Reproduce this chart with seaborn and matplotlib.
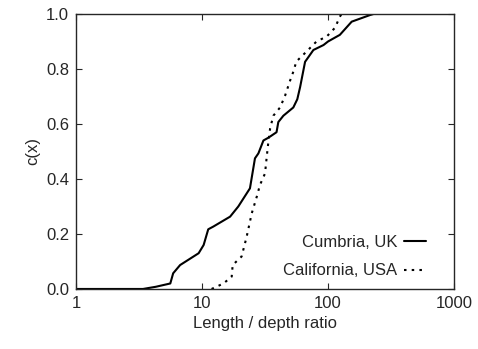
import matplotlib
matplotlib.use("Agg")
import matplotlib.pyplot as plt
import seaborn as sns
import pandas as pd

cumbria_x = [1, 3.4, 4.3, 5.6, 5.9, 6.7, 9.4, 10.3, 11.2, 12.3, 16.7, 19.4, 24, 26.3, 28,
             30.7, 33.6, 39, 40.3, 44.2, 53, 57, 60, 65.7, 76.5, 92, 100, 124, 154, 215, 230, 1000]
cumbria_y = [0, 0, 0.008, 0.02, 0.057, 0.087, 0.13, 0.16, 0.217, 0.227, 0.263, 0.30, 0.366, 0.475, 0.493,
             0.54, 0.55, 0.57, 0.607, 0.63, 0.66, 0.69, 0.734, 0.826, 0.869, 0.887, 0.90, 0.924, 0.972, 0.996, 1.0, 1.0]

calif_x = [11.9, 14.8, 17.2, 17.5, 20.6, 22.6, 24.8, 27.2, 28.8, 31.6, 32.6, 33.6, 34.7, 36.8,
           41.6, 45.6, 49.9, 53, 56, 67.7, 81, 97.6, 113.6, 124, 128]
calif_y = [0.0, 0.02, 0.045, 0.087, 0.118, 0.19, 0.275, 0.336, 0.378, 0.42, 0.48, 0.535, 0.584, 0.63,
           0.66, 0.703, 0.757, 0.79, 0.827, 0.864, 0.9, 0.918, 0.95, 0.99, 1.0]

df = pd.concat([
    pd.DataFrame({"x": cumbria_x, "y": cumbria_y, "site": "Cumbria, UK"}),
    pd.DataFrame({"x": calif_x, "y": calif_y, "site": "California, USA"}),
])

sns.set_style("ticks")
plt.rcParams['font.family'] = ['Liberation Sans', 'DejaVu Sans']

fig = plt.figure(figsize=(4.78, 3.49), dpi=100)
ax = fig.add_axes([0.159, 0.172, 0.791, 0.788])

sns.lineplot(data=df, x="x", y="y", style="site", sort=False, color="black",
             dashes={"Cumbria, UK": "", "California, USA": (1.2, 2.5)},
             linewidth=1.5, ax=ax, legend=True)

ax.set_xscale("log")
ax.set_xlim(1, 1000)
ax.set_ylim(0, 1)
ax.set_xticks([1, 10, 100, 1000])
ax.set_xticklabels(["1", "10", "100", "1000"])
ax.minorticks_off()
ax.set_yticks([0, 0.2, 0.4, 0.6, 0.8, 1.0])
ax.set_yticklabels(["0.0", "0.2", "0.4", "0.6", "0.8", "1.0"])
ax.tick_params(direction="in", top=True, right=True, labelsize=12, length=4, width=0.8, pad=5)
for s in ax.spines.values():
    s.set_linewidth(1.0)

ax.set_xlabel("Length / depth ratio", fontsize=12)
ax.set_ylabel("c(x)", fontsize=12)

ax.legend(loc="lower right", frameon=False, markerfirst=False, fontsize=12,
          handlelength=1.3, handletextpad=0.4, labelspacing=0.8,
          bbox_to_anchor=(0.96, -0.01), borderaxespad=0.4, title=None)

fig.savefig("out.png", dpi=100)
